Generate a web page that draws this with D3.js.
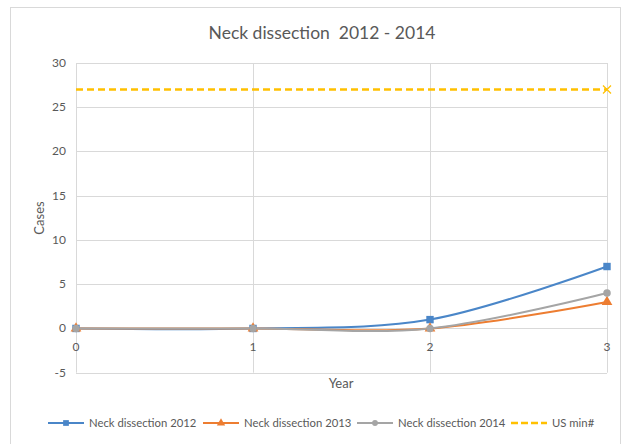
<!DOCTYPE html>
<html>
<head>
<meta charset="utf-8">
<script src="https://cdn.jsdelivr.net/npm/d3@7"></script>
<style>
  body { margin: 0; background: #fff; }
  text { font-family: Lato, "Open Sans", sans-serif; fill: #595959; }
</style>
</head>
<body>
<script>
var years = [0, 1, 2, 3];
var neck2012 = [0, 0, 1, 7];
var neck2013 = [0, 0, 0, 3];
var neck2014 = [0, 0, 0, 4];
var usMin = [27, 27, 27, 27];
var yTicks = [-5, 0, 5, 10, 15, 20, 25, 30];
var seriesNames = ["Neck dissection 2012", "Neck dissection 2013", "Neck dissection 2014", "US min#"];

var width = 628, height = 444;
var plotLeft = 76, plotRight = 607, plotTop = 63, plotBottom = 372.7;

var svg = d3.select("body").append("svg")
    .attr("width", width)
    .attr("height", height);

// chart frame
svg.append("rect")
    .attr("x", 10.5).attr("y", 7.5)
    .attr("width", 610).attr("height", 440)
    .attr("fill", "none")
    .attr("stroke", "#d9d9d9");

var x = d3.scaleLinear().domain([0, 3]).range([plotLeft, plotRight]);
var y = d3.scaleLinear().domain([-5, 30]).range([plotBottom, plotTop]);

// horizontal gridlines
svg.selectAll(".hgrid")
    .data(yTicks)
    .enter()
    .append("line")
    .attr("class", "hgrid")
    .attr("x1", plotLeft).attr("x2", plotRight)
    .attr("y1", function(d) { return Math.round(y(d)) + 0.5; })
    .attr("y2", function(d) { return Math.round(y(d)) + 0.5; })
    .attr("stroke", "#d9d9d9");

// vertical gridlines
svg.selectAll(".vgrid")
    .data(years)
    .enter()
    .append("line")
    .attr("class", "vgrid")
    .attr("x1", function(d) { return Math.round(x(d)) + 0.5; })
    .attr("x2", function(d) { return Math.round(x(d)) + 0.5; })
    .attr("y1", plotTop).attr("y2", plotBottom)
    .attr("stroke", "#d9d9d9");

// y tick labels
svg.selectAll(".ylab")
    .data(yTicks)
    .enter()
    .append("text")
    .attr("class", "ylab")
    .attr("x", plotLeft - 10)
    .attr("y", function(d) { return y(d) + 4; })
    .attr("text-anchor", "end")
    .attr("font-size", 12)
    .text(function(d) { return d; });

// x tick labels sit below the zero line
svg.selectAll(".xlab")
    .data(years)
    .enter()
    .append("text")
    .attr("class", "xlab")
    .attr("x", function(d) { return x(d); })
    .attr("y", y(0) + 23)
    .attr("text-anchor", "middle")
    .attr("font-size", 12)
    .text(function(d) { return d; });

svg.append("text")
    .attr("x", 322).attr("y", 39)
    .attr("text-anchor", "middle")
    .attr("font-size", 17.5)
    .attr("fill", "#404040")
    .style("white-space", "pre")
    .text("Neck dissection  2012 - 2014");

svg.append("text")
    .attr("x", 341).attr("y", 388)
    .attr("text-anchor", "middle")
    .attr("font-size", 13)
    .text("Year");

svg.append("text")
    .attr("transform", "translate(44,218) rotate(-90)")
    .attr("text-anchor", "middle")
    .attr("font-size", 13)
    .text("Cases");

var line = d3.line()
    .x(function(d, i) { return x(years[i]); })
    .y(function(d) { return y(d); })
    .curve(d3.curveCatmullRom.alpha(0));

var series = [
  { name: seriesNames[0], values: neck2012, color: "#4a86c8", marker: "square" },
  { name: seriesNames[1], values: neck2013, color: "#ed7d31", marker: "triangle" },
  { name: seriesNames[2], values: neck2014, color: "#a5a5a5", marker: "circle" }
];

function markerPath(type, k) {
  if (type == "square") return d3.symbol().type(d3.symbolSquare).size(55 * k)();
  if (type == "triangle") return d3.symbol().type(d3.symbolTriangle).size(50 * k)();
  return d3.symbol().type(d3.symbolCircle).size(45 * k)();
}

// US min# dashed line
svg.append("path")
    .attr("d", d3.line()
        .x(function(d, i) { return x(years[i]); })
        .y(function(d) { return y(d); })(usMin))
    .attr("fill", "none")
    .attr("stroke", "#ffc000")
    .attr("stroke-width", 2.5)
    .attr("stroke-dasharray", "7,4");

svg.append("path")
    .attr("d", "M-4,-4L4,4M-4,4L4,-4")
    .attr("transform", "translate(" + x(years[3]) + "," + y(usMin[3]) + ")")
    .attr("stroke", "#ffc000")
    .attr("stroke-width", 1.2)
    .attr("fill", "none");

series.forEach(function(s) {
  svg.append("path")
      .attr("d", line(s.values))
      .attr("fill", "none")
      .attr("stroke", s.color)
      .attr("stroke-width", 2);
});

series.forEach(function(s) {
  svg.append("g")
      .selectAll("path")
      .data(s.values)
      .enter()
      .append("path")
      .attr("d", markerPath(s.marker, 1))
      .attr("transform", function(d, i) {
        return "translate(" + x(years[i]) + "," + y(d) + ")";
      })
      .attr("fill", s.color);
});

// legend
var legendX = [48, 203, 357, 511];
var legendY = 423;
var allSeries = series.concat([{ name: seriesNames[3], color: "#ffc000", marker: "none" }]);

allSeries.forEach(function(s, i) {
  var lx = legendX[i];
  var g = svg.append("g");
  g.append("line")
      .attr("x1", lx).attr("x2", lx + 36)
      .attr("y1", legendY).attr("y2", legendY)
      .attr("stroke", s.color)
      .attr("stroke-width", s.marker == "none" ? 2.5 : 2)
      .attr("stroke-dasharray", s.marker == "none" ? "7,3" : null);
  if (s.marker != "none") {
    g.append("path")
        .attr("d", markerPath(s.marker, 0.6))
        .attr("transform", "translate(" + (lx + 18) + "," + legendY + ")")
        .attr("fill", s.color);
  }
  g.append("text")
      .attr("x", lx + 41)
      .attr("y", legendY + 4)
      .attr("font-size", 11.3)
      .text(s.name);
});
</script>
</body>
</html>
